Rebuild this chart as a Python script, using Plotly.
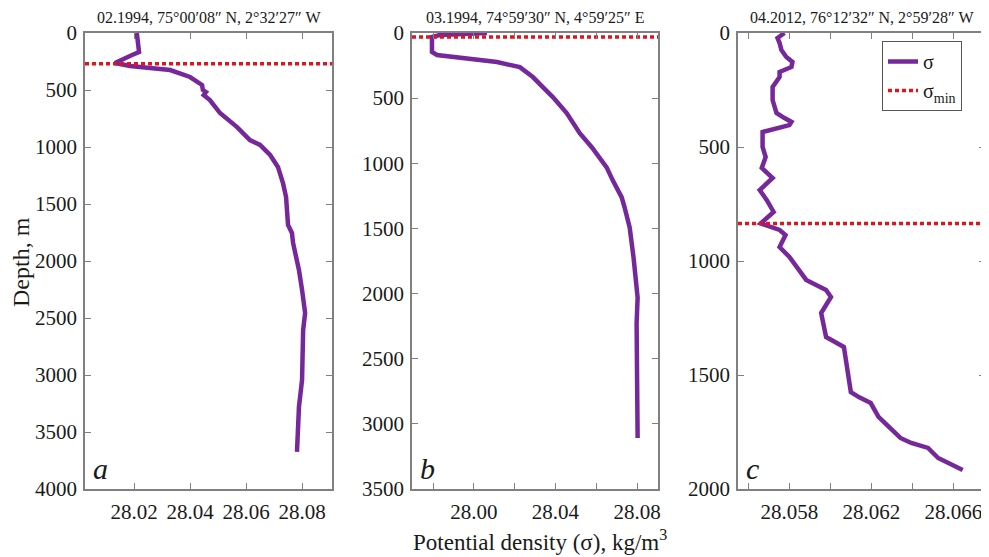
import plotly.graph_objects as go

# ---------------- data ----------------
# Panel a: 02.1994
depth_a = [0, 167, 193, 237, 263, 290, 307, 325, 386, 456, 500, 518, 544, 588, 702, 825, 939,
           982, 1070, 1175, 1316, 1439, 1684, 1754, 1842, 2079, 2254, 2456, 2605, 2842, 3044,
           3281, 3456, 3675]
sigma_a = [28.0210, 28.0218, 28.0193, 28.0157, 28.0132, 28.0186, 28.0257, 28.0329, 28.0400,
           28.0443, 28.0446, 28.0457, 28.0449, 28.0471, 28.0507, 28.0568, 28.0614, 28.0650,
           28.0686, 28.0714, 28.0732, 28.0743, 28.0750, 28.0764, 28.0768, 28.0789, 28.0800,
           28.0811, 28.0804, 28.0804, 28.0800, 28.0789, 28.0786, 28.0782]

# Panel b: 03.1994
depth_b = [0, 8, 15, 30, 146, 169, 192, 223, 262, 338, 415, 492, 615, 769, 877, 1031, 1131,
           1262, 1338, 1492, 1723, 2031, 2231, 2492, 2746, 3000, 3108]
sigma_b = [28.0064, 27.9966, 27.9834, 27.9794, 27.9794, 27.9819, 27.9946, 28.0113, 28.0225,
           28.0289, 28.0338, 28.0387, 28.0455, 28.0519, 28.0578, 28.0651, 28.0681, 28.0725,
           28.0739, 28.0764, 28.0783, 28.0803, 28.0798, 28.0798, 28.0798, 28.0798, 28.0803]

# Panel c: 04.2012
depth_c = [0, 22, 44, 75, 105, 127, 149, 171, 193, 215, 237, 294, 351, 373, 390, 404, 434, 500,
           544, 557, 592, 636, 689, 732, 785, 835, 864, 886, 939, 982, 1083, 1127, 1158, 1228,
           1333, 1377, 1575, 1597, 1623, 1684, 1728, 1776, 1798, 1820, 1864, 1917]
sigma_c = [28.05776, 28.05742, 28.05752, 28.05761, 28.05785, 28.05815, 28.05810, 28.05752,
           28.05752, 28.05737, 28.05718, 28.05718, 28.05737, 28.05776, 28.05810, 28.05800,
           28.05669, 28.05669, 28.05684, 28.05679, 28.05665, 28.05718, 28.05655, 28.05689,
           28.05723, 28.05660, 28.05752, 28.05781, 28.05752, 28.05800, 28.05882, 28.05979,
           28.06003, 28.05955, 28.05979, 28.06066, 28.06100, 28.06139, 28.06197, 28.06235,
           28.06284, 28.06342, 28.06395, 28.06477, 28.06526, 28.06646]

sigma_min_depth = [270, 30, 835]

titles = ["02.1994, 75°00′08″ N, 2°32′27″ W",
          "03.1994, 74°59′30″ N, 4°59′25″ E",
          "04.2012, 76°12′32″ N, 2°59′28″ W"]
letters = ["a", "b", "c"]

x_ranges = [[28.0025, 28.0907], [27.9696, 28.0903], [28.05549, 28.06755]]
y_max = [4000, 3500, 2000]
x_tickvals = [[28.02, 28.04, 28.06, 28.08],
              [28.00, 28.04, 28.08],
              [28.058, 28.062, 28.066]]
x_fmt = [".2f", ".2f", ".3f"]
x_minor = [None, 0.02, 0.002]

# ---------------- layout helpers ----------------
# page is 989x557; the figure div sits 8px in from the top-left (body margin)
OFF = 8
FW, FH = 989 - OFF, 557 - OFF
px_left = [85, 412, 738]
px_right = [332, 658, 985]
px_top, px_bot = 33, 489


def fx(px):
    return (px - OFF) / FW


def fy(py):
    return 1 - (py - OFF) / FH


FONT = "Liberation Serif"
PURPLE = "#76289a"
RED = "#e0141e"
AXC = "#808080"
TXT = "#1a1a1a"

fig = go.Figure()
depths = [depth_a, depth_b, depth_c]
sigmas = [sigma_a, sigma_b, sigma_c]

for i in range(3):
    xa = "x" if i == 0 else f"x{i+1}"
    ya = "y" if i == 0 else f"y{i+1}"
    fig.add_trace(go.Scatter(
        x=sigmas[i], y=depths[i], mode="lines", xaxis=xa, yaxis=ya,
        line=dict(color=PURPLE, width=4.5), name="σ",
        showlegend=(i == 2), legendrank=1))
    fig.add_trace(go.Scatter(
        x=x_ranges[i], y=[sigma_min_depth[i]] * 2, mode="lines", xaxis=xa, yaxis=ya,
        line=dict(color=RED, width=3.5, dash="4px,3px"), name="σ<sub>min</sub>",
        showlegend=(i == 2), legendrank=2))

layout = dict(
    width=FW, height=FH, autosize=False,
    margin=dict(l=0, r=0, t=0, b=0, pad=0, autoexpand=False),
    paper_bgcolor="white", plot_bgcolor="white",
    font=dict(family=FONT, color=TXT, size=20),
    showlegend=True,
    legend=dict(x=fx(882), y=fy(41), xanchor="left", yanchor="top",
                bordercolor="#555555", borderwidth=1, bgcolor="white",
                font=dict(family=FONT, size=20, color=TXT),
                tracegroupgap=0, itemwidth=30),
)

ydom = [fy(px_bot), fy(px_top)]
for i in range(3):
    xk = "xaxis" if i == 0 else f"xaxis{i+1}"
    yk = "yaxis" if i == 0 else f"yaxis{i+1}"
    xa_anchor = "y" if i == 0 else f"y{i+1}"
    ya_anchor = "x" if i == 0 else f"x{i+1}"
    xd = dict(
        domain=[fx(px_left[i]), fx(px_right[i])], anchor=xa_anchor, automargin=False,
        range=x_ranges[i], tickmode="array", tickvals=x_tickvals[i], tickformat=x_fmt[i],
        showgrid=False, zeroline=False, showline=True, linecolor=AXC, linewidth=1.5,
        mirror="ticks", ticks="inside", ticklen=6, tickcolor=AXC, tickwidth=1.2,
        tickfont=dict(family=FONT, size=21, color=TXT), ticklabelstandoff=3,
    )
    if x_minor[i]:
        xd["minor"] = dict(dtick=x_minor[i], tick0=x_tickvals[i][0], ticks="inside",
                           ticklen=6, tickcolor=AXC, tickwidth=1.2, showgrid=False)
    layout[xk] = xd
    layout[yk] = dict(
        domain=ydom, anchor=ya_anchor, range=[y_max[i], 0], dtick=500, tick0=0,
        automargin=False,
        showgrid=False, zeroline=False, showline=True, linecolor=AXC, linewidth=1.5,
        mirror="ticks", ticks="inside", ticklen=6, tickcolor=AXC, tickwidth=1.2,
        tickfont=dict(family=FONT, size=21, color=TXT), ticklabelstandoff=2,
    )

fig.update_layout(**layout)

annotations = []
for i in range(3):
    cx = (px_left[i] + px_right[i]) / 2
    annotations.append(dict(
        text=titles[i], x=fx(cx), y=fy(17), xref="paper", yref="paper",
        xanchor="center", yanchor="middle", showarrow=False,
        font=dict(family=FONT, size=16, color=TXT)))
    annotations.append(dict(
        text=f"<i>{letters[i]}</i>", x=fx(px_left[i] + 6), y=fy(468),
        xref="paper", yref="paper", xanchor="left", yanchor="middle", showarrow=False,
        font=dict(family=FONT, size=30, color=TXT)))

annotations.append(dict(
    text="Depth, m", x=fx(21), y=fy(262), xref="paper", yref="paper",
    xanchor="center", yanchor="middle", textangle=-90, showarrow=False,
    font=dict(family=FONT, size=24, color=TXT)))
annotations.append(dict(
    text="Potential density (σ), kg/m<sup>3</sup>", x=fx(540), y=fy(540),
    xref="paper", yref="paper", xanchor="center", yanchor="middle", showarrow=False,
    font=dict(family=FONT, size=23, color=TXT)))

fig.update_layout(annotations=annotations)

fig.write_html("out.html")
